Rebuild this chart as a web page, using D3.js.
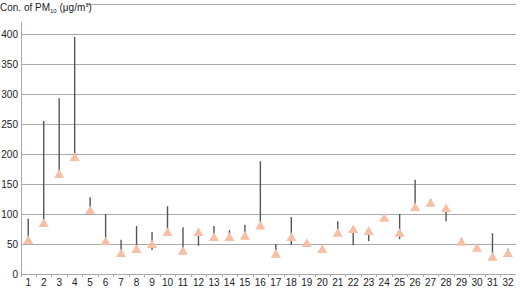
<!DOCTYPE html>
<html>
<head>
<meta charset="utf-8">
<script src="https://cdn.jsdelivr.net/npm/d3@7"></script>
<style>
body { margin: 0; background: #fff; }
text { font-family: "Liberation Sans", Arial, sans-serif; fill: #222; }
</style>
</head>
<body>
<div id="chart"></div>
<script>
var width = 520, height = 289;

var days = d3.range(1, 33).map(String);
// marker value, top and bottom of the range line for each day
var value = [55, 83, 165, 193, 105, 53, 33, 40, 48, 68, 37, 68, 60, 60, 62, 79,
             32, 60, 50, 40, 67, 73, 70, 92, 67, 110, 117, 108, 52, 42, 27, 33];
var high  = [92, 255, 293, 395, 128, 100, 57, 80, 70, 113, 78, 70, 80, 73, 82, 188,
             50, 95, 50, 40, 88, 73, 70, 92, 100, 157, 125, 108, 60, 47, 68, 42];
var low   = [55, 83, 165, 193, 105, 53, 33, 40, 40, 68, 37, 47, 60, 60, 62, 79,
             32, 48, 50, 40, 67, 48, 55, 92, 58, 110, 117, 88, 52, 42, 27, 33];
var yTicks = [0, 50, 100, 150, 200, 250, 300, 350, 400];

var x = d3.scaleBand().domain(days).range([20.5, 515.7]);
var y = d3.scaleLinear().domain([0, 450]).range([274, 4]);

var svg = d3.select("#chart").append("svg")
    .attr("width", width)
    .attr("height", height);

// gridlines
svg.append("g").selectAll("line")
    .data(yTicks.concat([450]))
    .enter().append("line")
    .attr("x1", 21).attr("x2", 516)
    .attr("y1", d => Math.round(y(d)) + 0.5)
    .attr("y2", d => Math.round(y(d)) + 0.5)
    .style("stroke", "#aaa")
    .style("stroke-width", 1);

// y axis line
svg.append("line")
    .attr("x1", 21.5).attr("x2", 21.5)
    .attr("y1", 22).attr("y2", y(0))
    .style("stroke", "#aaa");

// y labels
svg.append("g").selectAll("text")
    .data(yTicks)
    .enter().append("text")
    .attr("x", 18)
    .attr("y", d => y(d) + 3.5)
    .attr("text-anchor", "end")
    .style("font-size", "10px")
    .text(d => d);

// x ticks + labels
svg.append("g").selectAll("line")
    .data(days)
    .enter().append("line")
    .attr("x1", d => Math.round(x(d)) + 0.5)
    .attr("x2", d => Math.round(x(d)) + 0.5)
    .attr("y1", y(0)).attr("y2", y(0) + 3)
    .style("stroke", "#aaa");

svg.append("g").selectAll("text")
    .data(days)
    .enter().append("text")
    .attr("x", d => x(d) + x.bandwidth() / 2)
    .attr("y", 286)
    .attr("text-anchor", "middle")
    .style("font-size", "10px")
    .text(d => d);

// range lines
svg.append("g").selectAll("line")
    .data(days)
    .enter().append("line")
    .attr("x1", d => x(d) + x.bandwidth() / 2)
    .attr("x2", d => x(d) + x.bandwidth() / 2)
    .attr("y1", (d, i) => y(high[i]))
    .attr("y2", (d, i) => y(low[i]))
    .style("stroke", "#555")
    .style("stroke-width", 1.4);

// triangle markers
var tri = d3.symbol().type(d3.symbolTriangle).size(44);
svg.append("g").selectAll("path")
    .data(days)
    .enter().append("path")
    .attr("d", tri)
    .attr("transform", (d, i) => "translate(" + (x(d) + x.bandwidth() / 2) + "," + y(value[i]) + ")")
    .style("fill", "#f6bfa6");

// title with white background
svg.append("rect")
    .attr("x", 0).attr("y", 0)
    .attr("width", 86).attr("height", 16)
    .style("fill", "#fff");

var title = svg.append("text")
    .attr("x", 0).attr("y", 11)
    .style("font-size", "10px");
title.append("tspan").text("Con. of PM");
title.append("tspan").attr("dy", 2).style("font-size", "6px").text("10");
title.append("tspan").attr("dy", -2).text(" (μg/m");
title.append("tspan").attr("dy", -4).style("font-size", "6px").text("3");
title.append("tspan").attr("dy", 4).text(")");
</script>
</body>
</html>
